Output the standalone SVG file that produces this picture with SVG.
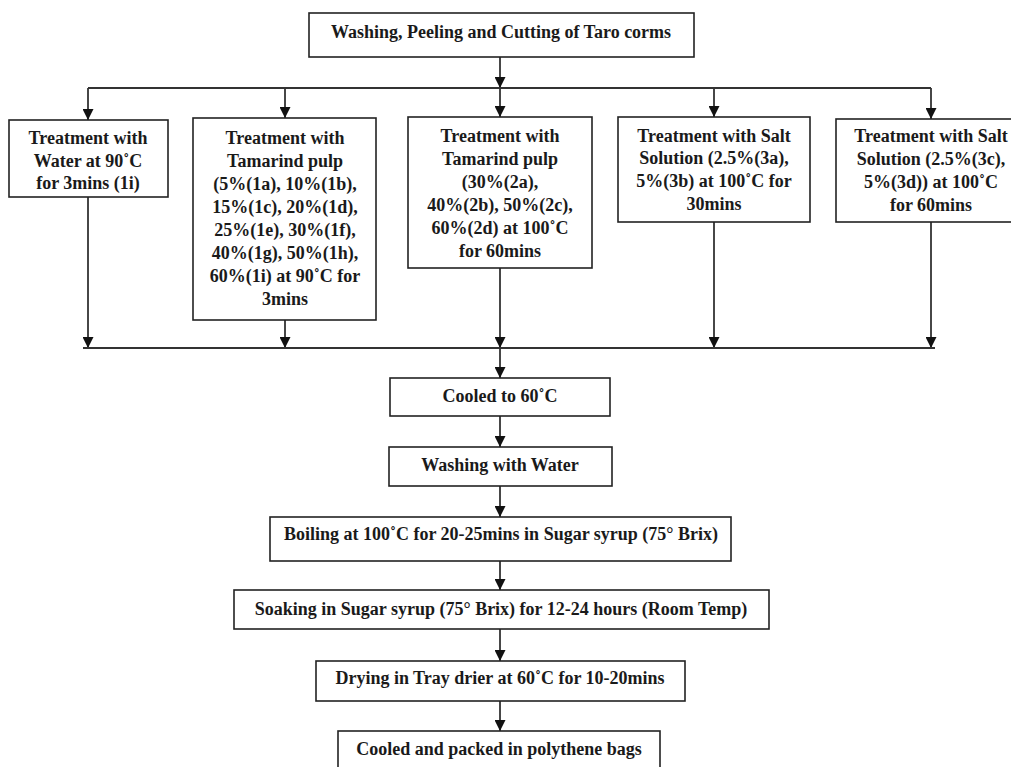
<svg xmlns="http://www.w3.org/2000/svg" width="1011" height="767" viewBox="0 0 1011 767">
<style>
.box{fill:#fff;stroke:#222;stroke-width:1.6}
.t{font-family:"Liberation Serif","Times New Roman",serif;font-weight:bold;font-size:18px;fill:#1a1a1a;text-anchor:middle}
.c{fill:none;stroke:#333;stroke-width:1.8}
</style>
<defs>
<marker id="ah" viewBox="0 0 12 12" refX="12" refY="6" markerWidth="13" markerHeight="11" markerUnits="userSpaceOnUse" orient="auto">
<path d="M0,0 L12,6 L0,12 z" fill="#111"/>
</marker>
</defs>
<rect width="1011" height="767" fill="#fff"/>
<g id="connectors">
<line class="c" x1="500" y1="57" x2="500" y2="88" marker-end="url(#ah)"/>
<line class="c" x1="88" y1="88" x2="931" y2="88"/>
<line class="c" x1="88" y1="88" x2="88" y2="120" marker-end="url(#ah)"/>
<line class="c" x1="285" y1="88" x2="285" y2="118" marker-end="url(#ah)"/>
<line class="c" x1="500" y1="88" x2="500" y2="117" marker-end="url(#ah)"/>
<line class="c" x1="714" y1="88" x2="714" y2="117" marker-end="url(#ah)"/>
<line class="c" x1="931" y1="88" x2="931" y2="119" marker-end="url(#ah)"/>
<line class="c" x1="88" y1="197" x2="88" y2="348" marker-end="url(#ah)"/>
<line class="c" x1="285" y1="320" x2="285" y2="348" marker-end="url(#ah)"/>
<line class="c" x1="500" y1="268" x2="500" y2="348" marker-end="url(#ah)"/>
<line class="c" x1="714" y1="222" x2="714" y2="348" marker-end="url(#ah)"/>
<line class="c" x1="931" y1="222" x2="931" y2="348" marker-end="url(#ah)"/>
<line class="c" x1="83" y1="348" x2="935" y2="348"/>
<line class="c" x1="500" y1="348" x2="500" y2="378" marker-end="url(#ah)"/>
<line class="c" x1="500" y1="416" x2="500" y2="447" marker-end="url(#ah)"/>
<line class="c" x1="500" y1="486" x2="500" y2="517" marker-end="url(#ah)"/>
<line class="c" x1="500" y1="561" x2="500" y2="590" marker-end="url(#ah)"/>
<line class="c" x1="500" y1="629" x2="500" y2="661" marker-end="url(#ah)"/>
<line class="c" x1="500" y1="701" x2="500" y2="731" marker-end="url(#ah)"/>
</g>
<g id="n-top">
<rect class="box" x="309" y="13" width="385" height="44"/>
<text class="t" x="501" y="38">Washing, Peeling and Cutting of Taro corms</text>
</g>
<g id="n-water">
<rect class="box" x="9" y="120" width="159" height="77"/>
<text class="t" x="88" y="144">Treatment with</text>
<text class="t" x="88" y="167">Water at 90˚C</text>
<text class="t" x="88" y="189">for 3mins (1i)</text>
</g>
<g id="n-tam1">
<rect class="box" x="193" y="118" width="183" height="202"/>
<text class="t" x="285" y="144">Treatment with</text>
<text class="t" x="285" y="167">Tamarind pulp</text>
<text class="t" x="285" y="190">(5%(1a), 10%(1b),</text>
<text class="t" x="285" y="213">15%(1c), 20%(1d),</text>
<text class="t" x="285" y="236">25%(1e), 30%(1f),</text>
<text class="t" x="285" y="259">40%(1g), 50%(1h),</text>
<text class="t" x="285" y="282">60%(1i) at 90˚C for</text>
<text class="t" x="285" y="305">3mins</text>
</g>
<g id="n-tam2">
<rect class="box" x="408" y="117" width="184" height="151"/>
<text class="t" x="500" y="142">Treatment with</text>
<text class="t" x="500" y="165">Tamarind pulp</text>
<text class="t" x="500" y="188">(30%(2a),</text>
<text class="t" x="500" y="211">40%(2b), 50%(2c),</text>
<text class="t" x="500" y="234">60%(2d) at 100˚C</text>
<text class="t" x="500" y="257">for 60mins</text>
</g>
<g id="n-salt1">
<rect class="box" x="618" y="117" width="192" height="105"/>
<text class="t" x="714" y="142">Treatment with Salt</text>
<text class="t" x="714" y="164">Solution (2.5%(3a),</text>
<text class="t" x="714" y="187">5%(3b) at 100˚C for</text>
<text class="t" x="714" y="210">30mins</text>
</g>
<g id="n-salt2">
<rect class="box" x="836" y="119" width="192" height="103"/>
<text class="t" x="931" y="142">Treatment with Salt</text>
<text class="t" x="931" y="165">Solution (2.5%(3c),</text>
<text class="t" x="931" y="188">5%(3d)) at 100˚C</text>
<text class="t" x="931" y="211">for 60mins</text>
</g>
<g id="n-cooled">
<rect class="box" x="390" y="378" width="220" height="38"/>
<text class="t" x="500" y="402">Cooled to 60˚C</text>
</g>
<g id="n-wash">
<rect class="box" x="389" y="447" width="223" height="39"/>
<text class="t" x="500" y="471">Washing with Water</text>
</g>
<g id="n-boil">
<rect class="box" x="270" y="517" width="461" height="44"/>
<text class="t" x="501" y="540">Boiling at 100˚C for 20-25mins in Sugar syrup (75° Brix)</text>
</g>
<g id="n-soak">
<rect class="box" x="234" y="590" width="535" height="39"/>
<text class="t" x="501" y="615">Soaking in Sugar syrup (75° Brix) for 12-24 hours (Room Temp)</text>
</g>
<g id="n-dry">
<rect class="box" x="316" y="661" width="369" height="40"/>
<text class="t" x="500" y="684">Drying in Tray drier at 60˚C for 10-20mins</text>
</g>
<g id="n-pack">
<rect class="box" x="338" y="731" width="322" height="45"/>
<text class="t" x="499" y="755">Cooled and packed in polythene bags</text>
</g>
</svg>
